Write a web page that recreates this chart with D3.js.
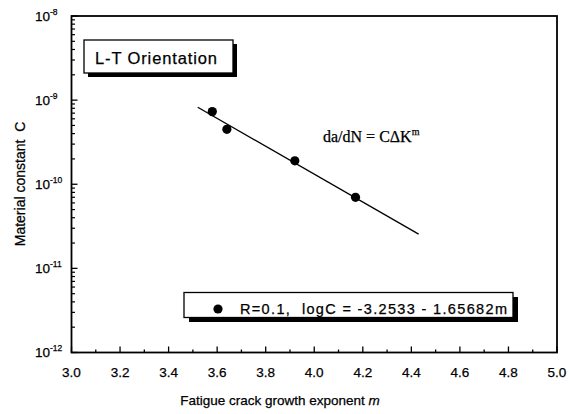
<!DOCTYPE html>
<meta charset="utf-8">
<title>material constant</title>
<style>
body { margin: 0; background: #fff; }
text { font-family: Arial, "Liberation Sans", sans-serif; fill: #000; stroke: #000; stroke-width: 0.25px; }
</style>
<body>
<div id="chart"></div>
<script src="https://cdn.jsdelivr.net/npm/d3@7"></script>
<script>
// data
var mValues = [3.58, 3.64, 3.92, 4.17];
var cValues = [7.3e-10, 4.5e-10, 1.9e-10, 7.0e-11];
var fitIntercept = -3.2533, fitSlope = -1.65682;
var fitRange = [3.52, 4.43];
var xTicks = [3.0, 3.2, 3.4, 3.6, 3.8, 4.0, 4.2, 4.4, 4.6, 4.8, 5.0];
var yExps = [-12, -11, -10, -9, -8];

var width = 570, height = 414;
var svg = d3.select("#chart").append("svg")
    .attr("width", width)
    .attr("height", height);

var x = d3.scaleLinear().domain([3, 5]).range([71.5, 557]);
var y = d3.scaleLog().domain([1e-12, 1e-8]).range([352.5, 16]);

// minor ticks
var xMinor = d3.range(3.1, 5, 0.2);
var yMinor = [];
yExps.slice(0, 4).forEach(function(e) {
  for (var k = 2; k < 10; k++) yMinor.push(k * Math.pow(10, e));
});

var g = svg.append("g");

g.selectAll(".xmaj").data(xTicks).enter().append("line")
    .attr("x1", function(d) { return x(d); }).attr("x2", function(d) { return x(d); })
    .attr("y1", y(1e-12)).attr("y2", y(1e-12) - 6)
    .attr("stroke", "#000").attr("stroke-width", 1.3);
g.selectAll(".xmin").data(xMinor).enter().append("line")
    .attr("x1", function(d) { return x(d); }).attr("x2", function(d) { return x(d); })
    .attr("y1", y(1e-12)).attr("y2", y(1e-12) - 3)
    .attr("stroke", "#000").attr("stroke-width", 1.3);

g.selectAll(".ymaj").data(yExps).enter().append("line")
    .attr("x1", x(3)).attr("x2", x(3) + 6)
    .attr("y1", function(d) { return y(Math.pow(10, d)); })
    .attr("y2", function(d) { return y(Math.pow(10, d)); })
    .attr("stroke", "#000").attr("stroke-width", 1.3);
g.selectAll(".ymin").data(yMinor).enter().append("line")
    .attr("x1", x(3)).attr("x2", x(3) + 3.5)
    .attr("y1", function(d) { return y(d); })
    .attr("y2", function(d) { return y(d); })
    .attr("stroke", "#000").attr("stroke-width", 1.2);

// frame
g.append("rect")
    .attr("x", x(3)).attr("y", y(1e-8))
    .attr("width", x(5) - x(3)).attr("height", y(1e-12) - y(1e-8))
    .attr("fill", "none").attr("stroke", "#000").attr("stroke-width", 1.8);

// tick labels
g.selectAll(".xl").data(xTicks).enter().append("text")
    .attr("x", function(d) { return x(d); })
    .attr("y", 377)
    .attr("text-anchor", "middle")
    .style("font-size", "13.5px")
    .text(function(d) { return d.toFixed(1); });

var yl = g.selectAll(".yl").data(yExps).enter().append("text")
    .attr("x", 35)
    .attr("y", function(d) { return y(Math.pow(10, d)) + 4.5; })
    .style("font-size", "13.5px");
yl.append("tspan").text("10");
yl.append("tspan").attr("dy", -6).style("font-size", "8.5px")
    .text(function(d) { return "-" + Math.abs(d); });

// fit line
var fitLine = d3.line()
    .x(function(d) { return x(d); })
    .y(function(d) { return y(Math.pow(10, fitIntercept + fitSlope * d)); });
g.append("path")
    .datum(fitRange)
    .attr("d", fitLine)
    .attr("fill", "none").attr("stroke", "#000").attr("stroke-width", 1.3);

// points
g.selectAll(".pt").data(mValues).enter().append("circle")
    .attr("cx", function(d) { return x(d); })
    .attr("cy", function(d, i) { return y(cValues[i]); })
    .attr("r", 4.6)
    .attr("fill", "#000");

// equation
var eq = g.append("text")
    .attr("x", 323).attr("y", 142)
    .style("font-family", "'Liberation Serif', 'Times New Roman', serif")
    .style("font-size", "16px");
eq.append("tspan").text("da/dN = C\u0394K");
eq.append("tspan").attr("dy", -7).style("font-size", "10px").text("m");

// L-T box
g.append("rect").attr("x", 88).attr("y", 44).attr("width", 149).attr("height", 33).attr("fill", "#000");
g.append("rect").attr("x", 84).attr("y", 40).attr("width", 149).attr("height", 33)
    .attr("fill", "#fff").attr("stroke", "#000").attr("stroke-width", 1.3);
g.append("text").attr("x", 95).attr("y", 63.5).style("font-size", "16.5px")
    .attr("textLength", 122).attr("lengthAdjust", "spacing")
    .text("L-T Orientation");

// legend box
g.append("rect").attr("x", 189).attr("y", 297).attr("width", 329).attr("height", 25).attr("fill", "#000");
g.append("rect").attr("x", 184).attr("y", 292.5).attr("width", 329).attr("height", 25)
    .attr("fill", "#fff").attr("stroke", "#000").attr("stroke-width", 1.3);
g.append("circle").attr("cx", 218).attr("cy", 309).attr("r", 4.6).attr("fill", "#000");
g.append("text").attr("x", 240).attr("y", 313.5).style("font-size", "14.5px")
    .attr("xml:space", "preserve")
    .attr("textLength", 267).attr("lengthAdjust", "spacing")
    .text("R=0.1,  logC = -3.2533 - 1.65682m");

// axis titles
var xt = g.append("text").attr("x", 280).attr("y", 405)
    .attr("text-anchor", "middle").style("font-size", "13.5px");
xt.append("tspan").text("Fatigue crack growth exponent  ");
xt.append("tspan").style("font-style", "italic").text("m");

var yt = g.append("text")
    .attr("transform", "translate(25,184) rotate(-90)")
    .attr("text-anchor", "middle").style("font-size", "14px")
    .attr("xml:space", "preserve");
yt.text("Material constant  C");
</script>
</body>
</html>
